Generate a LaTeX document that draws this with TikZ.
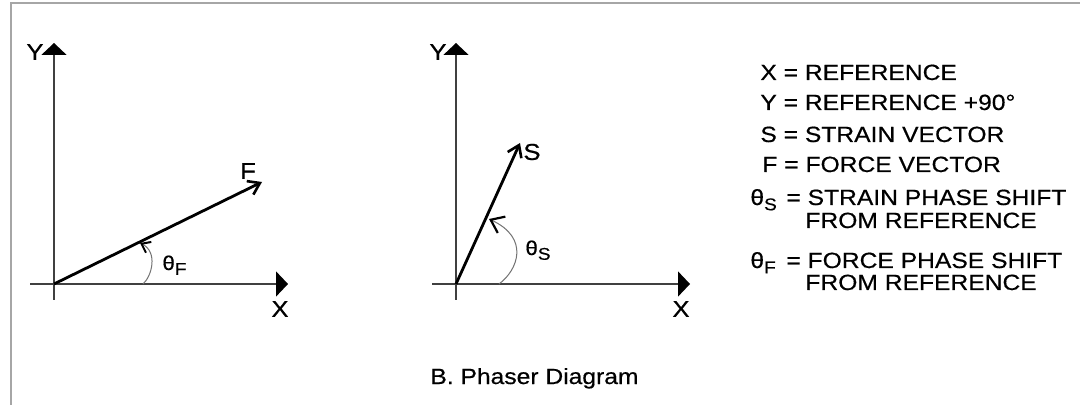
\documentclass[tikz,border=0pt]{standalone}
\usepackage{fontspec}
\setmainfont{Liberation Sans}[FakeStretch=1.12,FakeBold=0.5]
\usetikzlibrary{arrows.meta}
\newcommand{\lsub}[1]{\raisebox{-0.45ex}{\fontsize{8.5}{9}\selectfont #1}}
\begin{document}
\begin{tikzpicture}[x=0.5pt,y=-0.5pt,
  axis/.style={draw=black!75,line width=0.8pt,-{Triangle[width=12.5pt,length=6pt,color=black]}},
  vec/.style={draw=black,line width=1.4pt,-{Straight Barb[length=5.5pt,width=7.5pt,line width=1.3pt]}},
  arcline/.style={draw=black!55,line width=0.5pt},
  lbl/.style={inner sep=0pt,font=\fontsize{11.5}{13}\selectfont},
  leg/.style={inner sep=0pt,anchor=base west,font=\fontsize{11}{13}\selectfont},
  th/.style={inner sep=0pt,anchor=base west,font=\fontsize{10}{12}\selectfont},
  thl/.style={inner sep=0pt,anchor=base west,font=\fontsize{11}{12}\selectfont}]
\useasboundingbox (0,0) rectangle (1080,405);
\fill[white] (0,0) rectangle (1080,405);
% frame
\coordinate (FrTR) at (1080,3);
\coordinate (FrTL) at (11,3);
\coordinate (FrBL) at (11,405);
\draw[black!35,line width=1pt] (FrTR) -- (FrTL) -- (FrBL);

% ---------- left diagram ----------
\coordinate (O1) at (54,284);
\coordinate (Y1b) at (54,300);
\coordinate (Y1) at (54,43);
\coordinate (X1a) at (30,284);
\coordinate (X1) at (288,284);
\coordinate (F) at (262,182);
\coordinate (A1s) at (143,284);
\coordinate (A1e) at (140,243);
\draw[axis] (Y1b) -- (Y1);
\draw[axis] (X1a) -- (X1);
\draw[vec] (O1) -- (F);
\draw[arcline,-{Straight Barb[length=4pt,width=6pt,line width=1pt,color=black]}]
  (A1s) .. controls (152,276) and (158,252) .. (A1e);
\node[lbl] (LY1) at (35,52) {Y};
\node[lbl] (LX1) at (280,309) {X};
\node[lbl] (LF) at (248,171) {F};
\node[th] (LthF) at (162,270) {θ\lsub{F}};

% ---------- middle diagram ----------
\coordinate (O2) at (456,284);
\coordinate (Y2b) at (456,300);
\coordinate (Y2) at (456,43);
\coordinate (X2a) at (432,284);
\coordinate (X2) at (690,284);
\coordinate (S) at (520,143);
\coordinate (A2s) at (499,284);
\coordinate (A2e) at (489,219);
\draw[axis] (Y2b) -- (Y2);
\draw[axis] (X2a) -- (X2);
\draw[vec] (O2) -- (S);
\draw[arcline,-{Straight Barb[length=6pt,width=9pt,line width=1.1pt,color=black]}]
  (A2s) .. controls (518,270) and (530,238) .. (A2e);
\node[lbl] (LY2) at (438,52) {Y};
\node[lbl] (LX2) at (681,309) {X};
\node[lbl] (LS) at (532,152) {S};
\node[th] (LthS) at (525,255) {θ\lsub{S}};

% ---------- legend ----------
\node[leg] (L1) at (760,80) {X = REFERENCE};
\node[leg] (L2) at (760,110) {Y = REFERENCE +90°};
\node[leg] (L3) at (760,142) {S = STRAIN VECTOR};
\node[leg] (L4) at (762,172) {F = FORCE VECTOR};
\node[thl] (L5a) at (750,205) {θ\lsub{S}};
\node[leg] (L5) at (786,205) {= STRAIN PHASE SHIFT};
\node[leg] (L6) at (805,228) {FROM REFERENCE};
\node[thl] (L7a) at (750,268) {θ\lsub{F}};
\node[leg] (L7) at (786,268) {= FORCE PHASE SHIFT};
\node[leg] (L8) at (805,290) {FROM REFERENCE};

% caption
\node[leg] (CAP) at (430,384) {B. Phaser Diagram};
\end{tikzpicture}
\end{document}
